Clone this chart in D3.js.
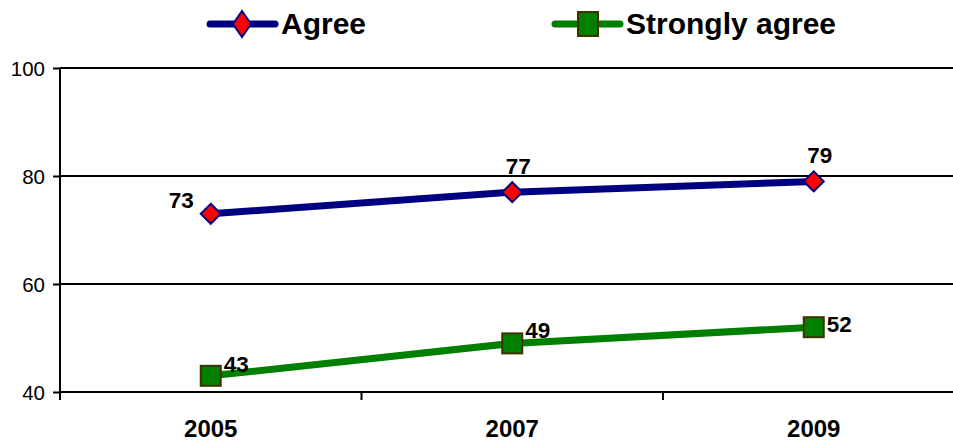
<!DOCTYPE html>
<html>
<head>
<meta charset="utf-8">
<script src="https://cdn.jsdelivr.net/npm/d3@7/dist/d3.min.js"></script>
<style>
  html, body { margin: 0; padding: 0; background: #fff; }
  svg { display: block; font-family: "Liberation Sans", Arial, sans-serif; }
</style>
</head>
<body>
<svg id="chart" width="953" height="444"></svg>
<script>
const categories = ["2005", "2007", "2009"];
const agree = [73, 77, 79];
const stronglyAgree = [43, 49, 52];
const seriesNames = ["Agree", "Strongly agree"];
const yTicks = [40, 60, 80, 100];

(function () {
const svg = d3.select("#chart");
const mLeft = 60, mRight = 964.5, mTop = 68, mBottom = 392;

const x = d3.scaleBand().domain(categories).range([mLeft, mRight]);
const y = d3.scaleLinear().domain([40, 100]).range([mBottom, mTop]);

// gridlines
svg.append("g").selectAll("line").data(yTicks).join("line")
  .attr("x1", mLeft).attr("x2", 953)
  .attr("y1", d => y(d)).attr("y2", d => y(d))
  .attr("stroke", "#000").attr("stroke-width", 2);

// y axis
const yAxis = svg.append("g").attr("transform", `translate(${mLeft},0)`)
  .call(d3.axisLeft(y).tickValues(yTicks).tickSize(7).tickPadding(8));
yAxis.select(".domain").attr("d", `M0,${mTop}V${mBottom + 8}`).attr("stroke-width", 2);
yAxis.selectAll(".tick line").attr("stroke-width", 2);
yAxis.selectAll(".tick text").attr("font-size", 20.5).attr("fill", "#000")
  .attr("font-family", "Liberation Sans, Arial, sans-serif").attr("dy", "0.36em");

// x axis
const xAxis = svg.append("g").attr("transform", `translate(0,${mBottom})`)
  .call(d3.axisBottom(x).tickSize(0).tickPadding(28));
xAxis.select(".domain").remove();
xAxis.selectAll(".tick text").attr("font-size", 24).attr("font-weight", "bold").attr("fill", "#000")
  .attr("font-family", "Liberation Sans, Arial, sans-serif");
// boundary ticks between categories
svg.append("g").selectAll("line").data(categories.slice(1)).join("line")
  .attr("x1", d => x(d)).attr("x2", d => x(d))
  .attr("y1", mBottom).attr("y2", mBottom + 8)
  .attr("stroke", "#000").attr("stroke-width", 2);

const cx = d => x(d) + x.bandwidth() / 2;
const line = d3.line().x(d => cx(d.c)).y(d => y(d.v));

const aData = categories.map((c, i) => ({ c, v: agree[i] }));
const sData = categories.map((c, i) => ({ c, v: stronglyAgree[i] }));

// lines
svg.append("path").datum(aData).attr("d", line)
  .attr("fill", "none").attr("stroke", "#000080").attr("stroke-width", 7);
svg.append("path").datum(sData).attr("d", line)
  .attr("fill", "none").attr("stroke", "#008000").attr("stroke-width", 7);

const diamond = (px, py, rx, ry) => `M${px},${py - ry}L${px + rx},${py}L${px},${py + ry}L${px - rx},${py}Z`;

// markers
svg.append("g").selectAll("path").data(aData).join("path")
  .attr("d", d => diamond(cx(d.c), y(d.v), 10, 10))
  .attr("fill", "#ff0000").attr("stroke", "#000080").attr("stroke-width", 2);
svg.append("g").selectAll("rect").data(sData).join("rect")
  .attr("x", d => cx(d.c) - 10).attr("y", d => y(d.v) - 10)
  .attr("width", 20).attr("height", 20)
  .attr("fill", "#008000").attr("stroke", "#3d3300").attr("stroke-width", 2);

// data labels
const lblA = svg.append("g").attr("font-size", 22.5).attr("font-weight", "bold").attr("fill", "#000");
lblA.selectAll("text").data(aData).join("text")
  .attr("x", (d, i) => i === 0 ? cx(d.c) - 17 : cx(d.c) + 6)
  .attr("y", (d, i) => i === 0 ? y(d.v) - 6 : y(d.v) - 18)
  .attr("text-anchor", (d, i) => i === 0 ? "end" : "middle")
  .text(d => d.v);
const lblS = svg.append("g").attr("font-size", 22.5).attr("font-weight", "bold").attr("fill", "#000");
lblS.selectAll("text").data(sData).join("text")
  .attr("x", d => cx(d.c) + 13)
  .attr("y", (d, i) => [y(d.v) - 4, y(d.v) - 5, y(d.v) + 5][i])
  .text(d => d.v);

// legend
const legend = svg.append("g");
const legItems = [
  { name: seriesNames[0], x0: 210, color: "#000080", type: "diamond" },
  { name: seriesNames[1], x0: 555, color: "#008000", type: "square" }
];
legItems.forEach(it => {
  const g = legend.append("g");
  g.append("line").attr("x1", it.x0).attr("x2", it.x0 + 65).attr("y1", 24).attr("y2", 24)
    .attr("stroke", it.color).attr("stroke-width", 7).attr("stroke-linecap", "round");
  if (it.type === "diamond") {
    g.append("path").attr("d", diamond(it.x0 + 32, 24, 9, 13))
      .attr("fill", "#ff0000").attr("stroke", "#000080").attr("stroke-width", 2);
  } else {
    g.append("rect").attr("x", it.x0 + 23).attr("y", 12).attr("width", 20).attr("height", 24)
      .attr("fill", "#008000").attr("stroke", "#3d3300").attr("stroke-width", 2);
  }
  g.append("text").attr("x", it.x0 + 71).attr("y", 34)
    .attr("font-size", 30).attr("font-weight", "bold").attr("fill", "#000")
    .text(it.name);
});
})();
</script>
</body>
</html>
